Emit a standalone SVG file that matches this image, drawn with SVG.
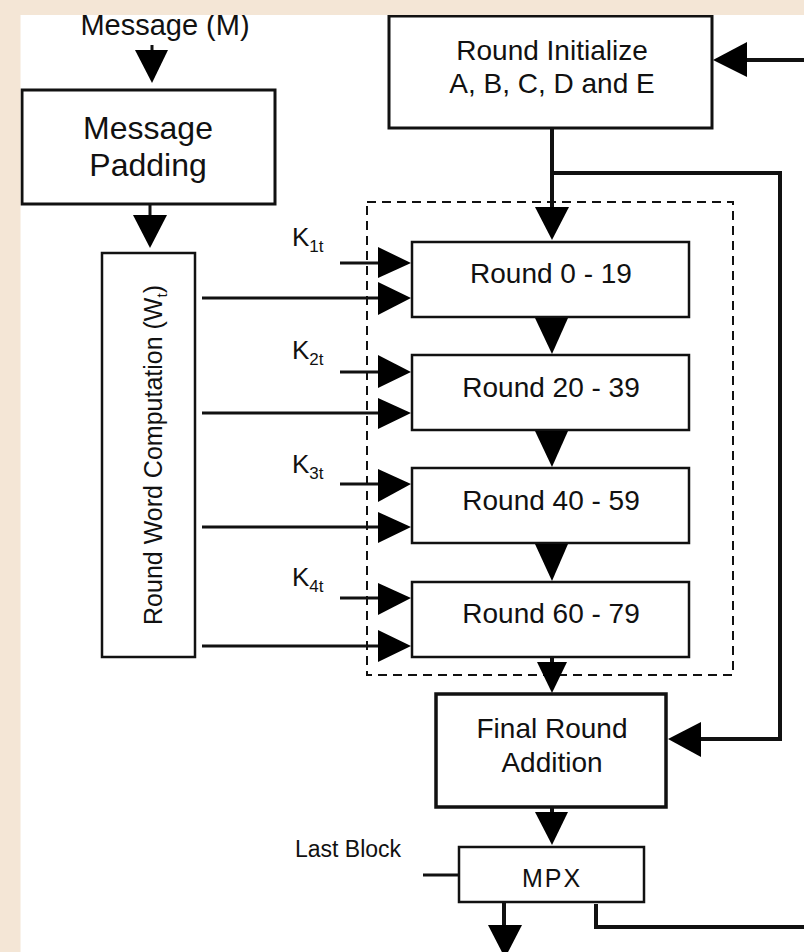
<svg xmlns="http://www.w3.org/2000/svg" width="804" height="952" viewBox="0 0 804 952">
<style>
text{font-family:"Liberation Sans",Arial,sans-serif;fill:#111;}
.box{fill:#fff;stroke:#111;}
.t28{font-size:28px;text-anchor:middle;}
.wire{stroke:#111;fill:none;}
.head{fill:#000;}
</style>
<rect x="0" y="0" width="804" height="952" fill="#fff"/>
<g id="msg-label"><text x="165" y="35" style="font-size:29px;text-anchor:middle">Message (M)</text></g>
<g id="padding">
<rect class="box" x="22" y="90" width="253" height="114" stroke-width="3"/>
<text x="148" y="139" style="font-size:32px;text-anchor:middle">Message</text>
<text x="148" y="176" style="font-size:32px;text-anchor:middle">Padding</text>
</g>
<g id="wordcomp">
<rect class="box" x="102" y="253" width="93" height="404" stroke-width="2.5"/>
<text transform="translate(162,455) rotate(-90)" style="font-size:25px;text-anchor:middle">Round Word Computation (W<tspan dy="5" font-size="15">t</tspan><tspan dy="-5">)</tspan></text>
</g>
<g id="init">
<rect class="box" x="389" y="16" width="323" height="112" stroke-width="3"/>
<text class="t28" x="552" y="60">Round Initialize</text>
<text class="t28" x="552" y="93">A, B, C, D and E</text>
</g>
<g id="rounds-group">
<rect x="367" y="202" width="366" height="473" fill="none" stroke="#111" stroke-width="2" stroke-dasharray="9,6"/>
</g>
<g id="round1"><rect class="box" x="412" y="242" width="277" height="75" stroke-width="2.5"/><text class="t28" x="551" y="283">Round 0 - 19</text></g>
<g id="round2"><rect class="box" x="412" y="355" width="277" height="75" stroke-width="2.5"/><text class="t28" x="551" y="397">Round 20 - 39</text></g>
<g id="round3"><rect class="box" x="412" y="468" width="277" height="75" stroke-width="2.5"/><text class="t28" x="551" y="510">Round 40 - 59</text></g>
<g id="round4"><rect class="box" x="412" y="582" width="277" height="75" stroke-width="2.5"/><text class="t28" x="551" y="623">Round 60 - 79</text></g>
<g id="k-labels" style="font-size:26px">
<text x="292" y="246">K<tspan font-size="17" dy="6">1t</tspan></text>
<text x="292" y="359">K<tspan font-size="17" dy="6">2t</tspan></text>
<text x="292" y="473">K<tspan font-size="17" dy="6">3t</tspan></text>
<text x="292" y="586">K<tspan font-size="17" dy="6">4t</tspan></text>
</g>
<g id="final">
<rect class="box" x="436" y="694" width="230" height="113" stroke-width="3.5"/>
<text class="t28" x="552" y="738">Final Round</text>
<text class="t28" x="552" y="772">Addition</text>
</g>
<g id="mpx">
<rect class="box" x="459" y="847" width="185" height="55" stroke-width="2.5"/>
<text x="552" y="887" style="font-size:25px;text-anchor:middle;letter-spacing:2px">MPX</text>
</g>
<g id="last-block"><text x="295" y="857" style="font-size:23px">Last Block</text></g>
<g id="connectors">
<g class="wire" stroke-width="3">
<line x1="152" y1="45" x2="152" y2="52"/>
<line x1="150" y1="204" x2="150" y2="217"/>
<line x1="340" y1="263" x2="380" y2="263"/>
<line x1="202" y1="298" x2="380" y2="298"/>
<line x1="340" y1="372" x2="380" y2="372"/>
<line x1="202" y1="413" x2="380" y2="413"/>
<line x1="340" y1="484" x2="380" y2="484"/>
<line x1="202" y1="527" x2="380" y2="527"/>
<line x1="340" y1="598" x2="380" y2="598"/>
<line x1="202" y1="646" x2="380" y2="646"/>
<line x1="423" y1="875" x2="459" y2="875"/>
</g>
<g class="wire" stroke-width="4">
<line x1="745" y1="60" x2="804" y2="60"/>
<polyline points="552,128 552,210"/>
<polyline points="552,173 780,173 780,739 698,739"/>
<line x1="552" y1="657" x2="552" y2="665"/>
<line x1="552" y1="807" x2="552" y2="814"/>
<line x1="504" y1="902" x2="504" y2="927"/>
<polyline points="596,904 596,927 804,927"/>
</g>
<g class="head">
<polygon points="135,50 168,50 152,83"/>
<polygon points="133,215 167,215 150,248"/>
<polygon points="747,42 747,77 713,60"/>
<polygon points="535,207 569,207 552,240"/>
<polygon points="535,318 568,318 552,354"/>
<polygon points="535,431 568,431 552,467"/>
<polygon points="535,544 568,544 552,581"/>
<polygon points="537,662 567,662 552,693"/>
<polygon points="701,722 701,757 668,739"/>
<polygon points="535,812 568,812 552,845"/>
<polygon points="488,925 522,925 505,958"/>
<polygon points="378,247 378,278 411,263"/>
<polygon points="378,282 378,315 411,298"/>
<polygon points="378,355 378,388 411,372"/>
<polygon points="378,398 378,429 411,413"/>
<polygon points="378,469 378,502 411,484"/>
<polygon points="378,512 378,543 411,527"/>
<polygon points="378,583 378,615 411,598"/>
<polygon points="378,630 378,662 411,646"/>
</g>
</g>
<rect x="0" y="0" width="804" height="15" fill="#f4e6d6"/>
<rect x="0" y="0" width="20.5" height="952" fill="#f4e6d6"/>
</svg>
